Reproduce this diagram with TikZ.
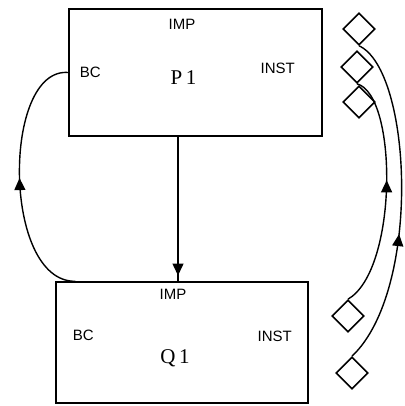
\documentclass[tikz,border=0pt]{standalone}
\usepackage{fontspec}
\setmainfont{Liberation Serif}
\newfontfamily\lblfont{Liberation Sans}
\usetikzlibrary{arrows.meta, positioning, shapes.geometric, calc,
                decorations.markings}

\begin{document}
\begin{tikzpicture}[x=1pt, y=-1pt, line width=1.4pt,
  box/.style={draw, rectangle, inner sep=0pt},
  lbl/.style={font=\lblfont\fontsize{15}{15}\selectfont, inner sep=0pt},
  nm/.style={font=\fontsize{21}{21}\selectfont, inner sep=0pt},
  port/.style={draw, diamond, minimum size=32pt, inner sep=0pt, line width=1.6pt},
  midarrow/.style={postaction={decorate}, decoration={markings,
      mark=at position #1 with {\arrow{Triangle[length=12pt, width=11pt]}}}}]
  \useasboundingbox (0,0) rectangle (404,406);

  % Boxes
  \node[box, minimum width=253pt, minimum height=127pt] (P1) at (195.5,72.5) {};
  \node[box, minimum width=252pt, minimum height=121pt] (Q1) at (182,342.5) {};

  % Labels of P1
  \node[lbl] (p1imp) at ($(P1.north)+(-13.5,16)$) {IMP};
  \node[lbl] (p1bc) at ($(P1.west)+(22,0)$) {BC};
  \node[lbl] (p1inst) at ($(P1.east)+(-45,-4.5)$) {INST};
  \node[nm] (p1name) at ($(P1.center)+(-12,5.5)$) {P\,1};

  % Labels of Q1
  \node[lbl] (q1imp) at ($(Q1.north)+(-9,13)$) {IMP};
  \node[lbl] (q1bc) at ($(Q1.west)+(28,-7)$) {BC};
  \node[lbl] (q1inst) at ($(Q1.east)+(-34,-6)$) {INST};
  \node[nm] (q1name) at ($(Q1.center)+(-7,16)$) {Q\,1};

  % Ports
  \node[port] (d1) at (359,29) {};
  \node[port] (d2) at (357,67) {};
  \node[port] (d3) at (359,102) {};
  \node[port] (d4) at (348,316) {};
  \node[port] (d5) at (352,373) {};

  % Connectors
  \draw[midarrow=0.96] ($(P1.south)+(-17.5,0)$) -- ($(Q1.north)+(-4,0)$);
  \draw[midarrow=0.5] ($(Q1.north west)+(20,0)$) .. controls (2,282) and (2,67) .. (P1.west);
  \draw[midarrow=0.55] (d4.north) .. controls (398,270) and (398,95) .. (d2.south);
  \draw[midarrow=0.4] (d5.north) .. controls (422,290) and (412,70) .. (d1.south);
\end{tikzpicture}
\end{document}
